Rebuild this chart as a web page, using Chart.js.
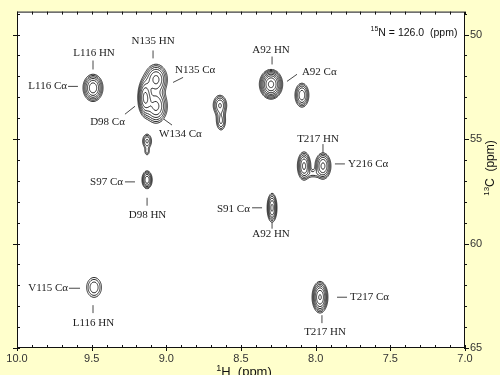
<!DOCTYPE html>
<html>
<head>
<meta charset="utf-8">
<script src="https://cdn.jsdelivr.net/npm/chart.js@4.4.1/dist/chart.umd.min.js"></script>
<style>
  html, body { margin: 0; padding: 0; background: #ffffcc; }
</style>
</head>
<body>
<canvas id="nmr" width="500" height="375"></canvas>
<script>
/* ================= DATA ================= */

const xTicks = [10.0, 9.5, 9.0, 8.5, 8.0, 7.5, 7.0];
const yTicks = [50, 55, 60, 65];

// cross peaks: 1H shift, 13C shift, linewidth (sigma, ppm) in each dim, height (x lowest contour)
const peakH   = [9.491, 9.069, 9.143, 9.069, 9.129, 9.129, 9.129, 8.641, 8.634, 8.299, 8.092, 8.078, 7.951, 8.018, 8.292, 9.484, 7.971];
const peakC   = [52.55, 52.14, 53.00, 53.43, 55.10, 55.62, 56.95, 53.38, 54.14, 52.38, 52.90, 56.29, 56.29, 56.67, 58.29, 62.10, 62.57];
const peakSH  = [0.034, 0.0402, 0.0234, 0.0402, 0.020, 0.013, 0.019, 0.027, 0.020, 0.035, 0.026, 0.0234, 0.0281, 0.027, 0.0174, 0.036, 0.026];
const peakSC  = [0.33, 0.381, 0.429, 0.429, 0.224, 0.143, 0.238, 0.286, 0.286, 0.319, 0.319, 0.357, 0.333, 0.143, 0.367, 0.343, 0.371];
const peakAmp = [7, 6, 8, 6, 3, 1.5, 5, 4, 3, 12, 5, 6, 6, 1.3, 6, 2.6, 8];

// assignment labels (anchor in ppm) and their leader lines
const labelText  = ['N135 HN', 'L116 HN', 'L116 Cα', 'N135 Cα', 'D98 Cα', 'W134 Cα', 'S97 Cα', 'D98 HN', 'S91 Cα',
                    'A92 HN', 'A92 Cα', 'T217 HN', 'Y216 Cα', 'A92 HN', 'V115 Cα', 'L116 HN', 'T217 Cα', 'T217 HN'];
const labelH     = [9.089, 9.484, 9.665, 8.942, 9.277, 9.049, 9.290, 9.126, 8.440, 8.299, 8.092, 7.984, 7.783, 8.299, 9.658, 9.488, 7.770, 7.937];
const labelC     = [50.29, 50.90, 52.48, 51.69, 54.21, 54.74, 57.05, 58.62, 58.33, 50.74, 51.81, 54.98, 56.19, 59.57, 62.14, 63.79, 62.57, 64.26];
const labelAlign = ['center', 'center', 'right', 'left', 'right', 'left', 'right', 'center', 'right',
                    'center', 'left', 'center', 'left', 'center', 'right', 'center', 'left', 'center'];
const leadH1 = [9.089, 9.491, 9.658, 8.955, 9.277, 9.016, 9.277, 9.129, 8.426, 8.292, 8.192, 7.951, 7.871, 8.292, 9.652, 9.491, 7.857, 7.958];
const leadC1 = [50.76, 51.24, 52.48, 52.29, 53.81, 54.05, 57.05, 57.81, 58.29, 51.05, 52.24, 55.24, 56.19, 59.00, 62.14, 62.95, 62.57, 63.43];
const leadH2 = [9.089, 9.491, 9.592, 8.888, 9.210, 8.962, 9.210, 9.129, 8.359, 8.292, 8.125, 7.951, 7.804, 8.292, 9.578, 9.491, 7.790, 7.958];
const leadC2 = [51.14, 51.67, 52.48, 52.05, 53.43, 54.33, 57.05, 58.19, 58.29, 51.43, 51.90, 55.67, 56.19, 59.29, 62.14, 63.33, 62.57, 63.81];

const contourBase = 1;     // lowest contour level
const contourRatio = 1.4;  // geometric spacing

/* ================= CONTOURS (marching squares) ================= */

const segTable = [[], [[3, 2]], [[2, 1]], [[3, 1]], [[0, 1]], [[3, 0], [2, 1]], [[0, 2]], [[3, 0]],
                  [[3, 0]], [[0, 2]], [[0, 1], [3, 2]], [[0, 1]], [[3, 1]], [[2, 1]], [[3, 2]], []];

function drawContours(chart) {
  const { ctx, chartArea: a, scales: { x, y } } = chart;
  const pts = chart.data.datasets[0].data;
  const nx = Math.round(a.right - a.left) + 1;
  const ny = Math.round(a.bottom - a.top) + 1;
  const field = new Float32Array(nx * ny);

  pts.forEach(p => {
    const gx = new Float32Array(nx), gy = new Float32Array(ny);
    for (let i = 0; i < nx; i++) {
      const d = (x.getValueForPixel(a.left + i) - p.x) / p.sx;
      gx[i] = d * d < 40 ? Math.exp(-0.5 * d * d) : 0;
    }
    for (let j = 0; j < ny; j++) {
      const d = (y.getValueForPixel(a.top + j) - p.y) / p.sy;
      gy[j] = d * d < 40 ? Math.exp(-0.5 * d * d) : 0;
    }
    for (let j = 0; j < ny; j++) {
      if (!gy[j]) continue;
      const row = j * nx, f = p.a * gy[j];
      for (let i = 0; i < nx; i++) if (gx[i]) field[row + i] += f * gx[i];
    }
  });

  const maxAmp = Math.max(...pts.map(p => p.a));
  ctx.save();
  ctx.beginPath();
  ctx.rect(a.left, a.top, a.right - a.left, a.bottom - a.top);
  ctx.clip();
  ctx.strokeStyle = '#262626';
  ctx.lineWidth = 0.95;

  for (let L = contourBase; L < maxAmp * 1.3; L *= contourRatio) {
    ctx.beginPath();
    for (let j = 0; j < ny - 1; j++) {
      for (let i = 0; i < nx - 1; i++) {
        const v0 = field[j * nx + i], v1 = field[j * nx + i + 1];
        const v2 = field[(j + 1) * nx + i + 1], v3 = field[(j + 1) * nx + i];
        const idx = (v0 > L ? 8 : 0) | (v1 > L ? 4 : 0) | (v2 > L ? 2 : 0) | (v3 > L ? 1 : 0);
        if (idx === 0 || idx === 15) continue;
        const edge = e => {
          if (e === 0) return [i + (L - v0) / (v1 - v0), j];
          if (e === 1) return [i + 1, j + (L - v1) / (v2 - v1)];
          if (e === 2) return [i + (L - v3) / (v2 - v3), j + 1];
          return [i, j + (L - v0) / (v3 - v0)];
        };
        segTable[idx].forEach(([e1, e2]) => {
          const p1 = edge(e1), p2 = edge(e2);
          ctx.moveTo(a.left + p1[0], a.top + p1[1]);
          ctx.lineTo(a.left + p2[0], a.top + p2[1]);
        });
      }
    }
    ctx.stroke();
  }
  ctx.restore();
}

/* ================= TEXT HELPERS ================= */

function supText(ctx, sup, main, x, y, size) {
  const supFont = Math.round(size * 0.7) + 'px "Liberation Sans", Arial, sans-serif';
  const mainFont = size + 'px "Liberation Sans", Arial, sans-serif';
  ctx.font = supFont;
  const ws = ctx.measureText(sup).width;
  ctx.font = mainFont;
  const wm = ctx.measureText(main).width;
  const x0 = x - (ws + wm) / 2;
  ctx.textAlign = 'left';
  ctx.textBaseline = 'alphabetic';
  ctx.fillText(main, x0 + ws, y);
  ctx.font = supFont;
  ctx.fillText(sup, x0, y - size * 0.42);
}

/* ================= DECORATION PLUGIN ================= */

const nmrPlugin = {
  id: 'nmr',
  beforeDraw(chart) {
    const { ctx, chartArea: a } = chart;
    ctx.save();
    ctx.fillStyle = '#ffffff';
    ctx.fillRect(a.left, a.top, a.right - a.left, a.bottom - a.top);
    ctx.restore();
  },
  afterDatasetsDraw(chart) {
    drawContours(chart);
  },
  afterDraw(chart) {
    const { ctx, chartArea: a, scales: { x, y } } = chart;
    ctx.save();

    // frame
    ctx.strokeStyle = '#111';
    ctx.lineWidth = 1;
    ctx.strokeRect(a.left + 0.5, a.top + 0.5, a.right - a.left - 1, a.bottom - a.top - 1);

    // tick marks
    ctx.beginPath();
    for (let v = 7.0; v <= 10.001; v += 0.1) {
      const px = Math.round(x.getPixelForValue(v)) + 0.5;
      const major = Math.abs(v * 2 - Math.round(v * 2)) < 1e-6;
      ctx.moveTo(px, a.bottom - 3); ctx.lineTo(px, a.bottom + (major ? 3 : 0));
      ctx.moveTo(px, a.top); ctx.lineTo(px, a.top + 3);
    }
    for (let v = 49; v <= 65; v += 1) {
      const py = Math.round(y.getPixelForValue(v)) + 0.5;
      const major = v % 5 === 0;
      ctx.moveTo(a.right - 1, py); ctx.lineTo(a.right + (major ? 4 : 2), py);
      ctx.moveTo(a.left - (major ? 4 : 0), py); ctx.lineTo(a.left + 3, py);
    }
    ctx.stroke();

    // leader lines
    ctx.strokeStyle = '#333';
    ctx.lineWidth = 0.9;
    ctx.beginPath();
    labelText.forEach((t, k) => {
      ctx.moveTo(x.getPixelForValue(leadH1[k]), y.getPixelForValue(leadC1[k]));
      ctx.lineTo(x.getPixelForValue(leadH2[k]), y.getPixelForValue(leadC2[k]));
    });
    ctx.stroke();

    // assignment labels
    ctx.fillStyle = '#222';
    ctx.font = '11px "Liberation Serif", "Times New Roman", serif';
    ctx.textBaseline = 'middle';
    labelText.forEach((t, k) => {
      ctx.textAlign = labelAlign[k];
      ctx.fillText(t, x.getPixelForValue(labelH[k]), y.getPixelForValue(labelC[k]));
    });

    // plane and axis titles
    ctx.fillStyle = '#111';
    supText(ctx, '15', 'N = 126.0  (ppm)', a.right - 51, a.top + 24, 10.5);
    supText(ctx, '1', 'H  (ppm)', 244, 376, 13);
    ctx.translate(494, 168);
    ctx.rotate(-Math.PI / 2);
    supText(ctx, '13', 'C  (ppm)', 0, 0, 12);

    ctx.restore();
  }
};

/* ================= CHART ================= */

const peaks = peakH.map((h, k) => ({ x: h, y: peakC[k], sx: peakSH[k], sy: peakSC[k], a: peakAmp[k] }));

new Chart(document.getElementById('nmr'), {
  type: 'scatter',
  data: {
    datasets: [{
      label: 'HN(CO)CA strip',
      data: peaks,
      pointRadius: 0,
      pointHoverRadius: 0
    }]
  },
  options: {
    responsive: false,
    animation: false,
    devicePixelRatio: 1,
    layout: { padding: { left: 17, top: 10, right: 0, bottom: 0 } },
    plugins: {
      legend: { display: false },
      tooltip: { enabled: false }
    },
    scales: {
      x: {
        type: 'linear',
        position: 'bottom',
        reverse: true,
        min: 7.0,
        max: 10.0,
        afterBuildTicks: s => { s.ticks = xTicks.map(v => ({ value: v })); },
        afterFit: s => { s.height = 27; },
        grid: { display: false, drawTicks: false },
        border: { display: false },
        ticks: {
          padding: 4,
          maxRotation: 0,
          color: '#333',
          font: { family: '"Liberation Sans", Arial, sans-serif', size: 11 },
          callback: v => Number(v).toFixed(1)
        }
      },
      y: {
        type: 'linear',
        position: 'right',
        reverse: true,
        min: 48.9,
        max: 65,
        afterBuildTicks: s => { s.ticks = yTicks.map(v => ({ value: v })); },
        afterFit: s => { s.width = 35; },
        grid: { display: false, drawTicks: false },
        border: { display: false },
        ticks: {
          padding: 5,
          color: '#333',
          font: { family: '"Liberation Sans", Arial, sans-serif', size: 11 },
          callback: v => String(v)
        }
      }
    }
  },
  plugins: [nmrPlugin]
});
</script>
</body>
</html>
